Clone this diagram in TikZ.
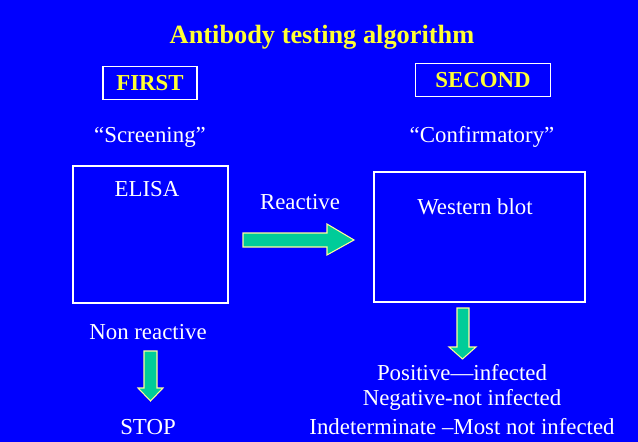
\documentclass[tikz,border=0pt]{standalone}
\usepackage{fontspec}
\setmainfont{Liberation Serif}
\usetikzlibrary{positioning}
\definecolor{slideblue}{RGB}{0,0,255}
\definecolor{arrowgreen}{RGB}{0,204,153}
\definecolor{arrowrim}{RGB}{255,255,153}
\definecolor{titleyellow}{RGB}{255,255,51}
\begin{document}
\begin{tikzpicture}[x=0.02cm,y=-0.02cm,
    txt/.style={text=white,font=\fontsize{13}{15}\selectfont,inner sep=0pt},
    head/.style={draw=white,text=titleyellow,font=\fontsize{13}{15}\selectfont\bfseries,
        minimum height=0.66cm,inner sep=0pt,line width=0.6pt},
    bigarrow/.style={fill=arrowgreen,draw=arrowrim,line width=0.6pt,line join=miter}]
        % Фон слайда
        \fill[slideblue] (0,0) rectangle (638,442);
        \useasboundingbox (0,0) rectangle (638,442);

        % Заголовок
        \node[text=titleyellow,font=\fontsize{15}{18}\selectfont\bfseries,inner sep=0pt] (title) at (322,37) {Antibody testing algorithm};

        % Етапи
        \node[head,minimum width=1.88cm] (first) at (150,83) {FIRST};
        \node[head,minimum width=2.7cm] (second) at (483,80) {SECOND};
        \node[txt] (scr) at (150,137) {“Screening”};
        \node[txt] (conf) at (482,137) {“Confirmatory”};

        % Рамки тестів
        \draw[white,line width=0.6pt] (73,166) rectangle (228,303);
        \draw[white,line width=0.6pt] (374,172) rectangle (585,302);
        \node[txt] (elisa) at (147,189) {ELISA};
        \node[txt] (wb) at (475,207) {Western blot};

        % Стрілка праворуч
        \node[txt] (react) at (300,202) {Reactive};
        \draw[bigarrow] (243,233) -- (327,233) -- (327,224) -- (354,240)
            -- (327,255) -- (327,247) -- (243,247) -- cycle;

        % Ліва гілка
        \node[txt] (nonr) at (148,332) {Non reactive};
        \draw[bigarrow] (144,351) -- (157,351) -- (157,388) -- (163,388)
            -- (150.5,401) -- (138,388) -- (144,388) -- cycle;
        \node[txt] (stop) at (148,427) {STOP};

        % Права гілка
        \draw[bigarrow] (457,308) -- (469,308) -- (469,347) -- (476,347)
            -- (462.5,359) -- (449,347) -- (457,347) -- cycle;
        \node[txt] (pos) at (462,373) {Positive—infected};
        \node[txt] (neg) at (462,400) {Negative-not infected};
        \node[txt] (ind) at (462,427) {Indeterminate –Most not infected};
    \end{tikzpicture}
\end{document}
